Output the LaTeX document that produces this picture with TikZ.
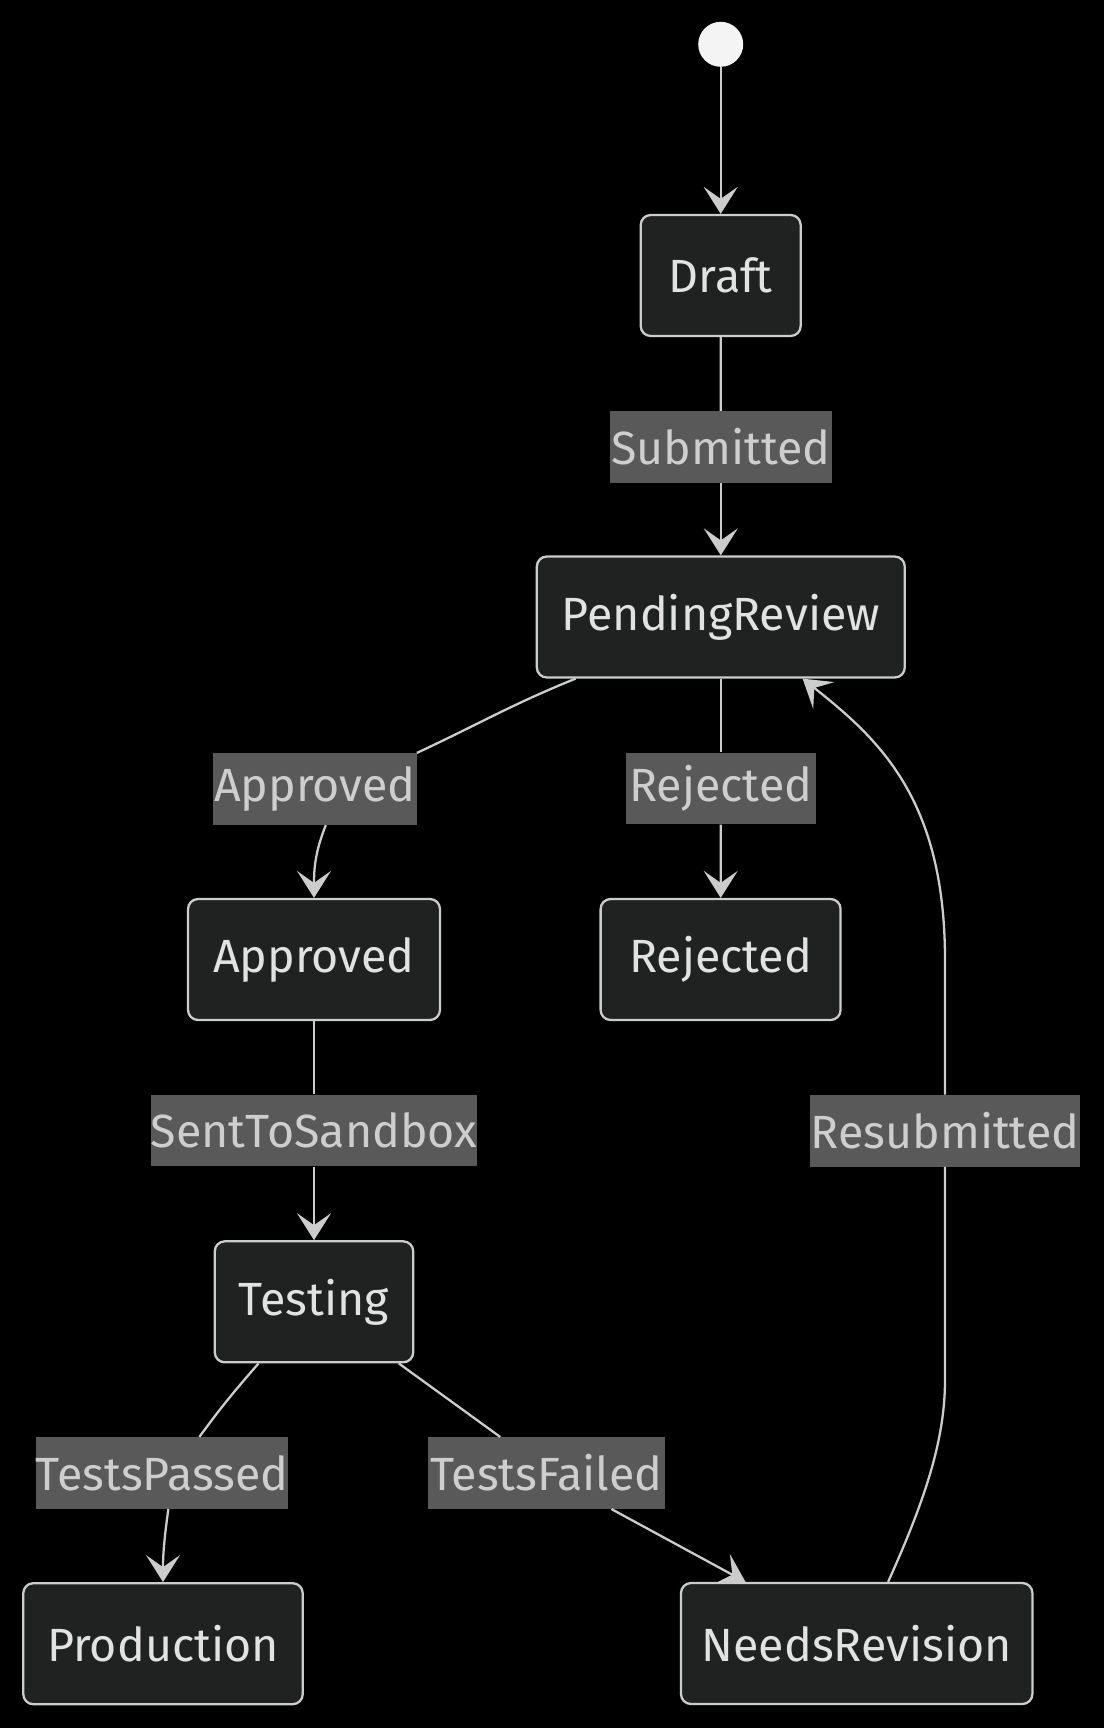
\documentclass[tikz,border=0pt]{standalone}
\usepackage{fontspec}
\setmainfont{Fira Sans}
\usetikzlibrary{arrows.meta}

\definecolor{nodefill}{RGB}{32,34,33}
\definecolor{nodeline}{RGB}{204,204,204}
\definecolor{nodetext}{RGB}{226,226,226}
\definecolor{lblfill}{RGB}{89,89,89}
\definecolor{lbltext}{RGB}{206,206,206}
\definecolor{startfill}{RGB}{244,244,244}

\begin{document}
\begin{tikzpicture}[
		x=0.02cm, y=-0.02cm,
		font=\fontsize{26.5}{31}\selectfont,
		tr/.style={draw=nodeline, line width=1.3pt},
		ar/.style={tr, -{Stealth[length=0.54cm, width=0.68cm, inset=0.24cm]}},
		stbox/.style={draw=nodeline, line width=1.3pt, fill=nodefill, text=nodetext,
			rounded corners=0.2cm, minimum height=2.42cm, inner sep=0pt},
		lbl/.style={fill=lblfill, text=lbltext, minimum height=1.43cm, inner sep=0pt}
	]
		\fill[black] (0,0) rectangle (1104,1728);
		\useasboundingbox (0,0) rectangle (1104,1728);

		% states
		\node[circle, fill=startfill, minimum size=0.9cm, inner sep=0pt] (start) at (720.7,44.3) {};
		\node[stbox, minimum width=3.2cm] (draft) at (720.7,275.5) {Draft};
		\node[stbox, minimum width=7.36cm] (pend) at (720.8,617) {PendingReview};
		\node[stbox, minimum width=5.04cm] (appr) at (314,959.5) {Approved};
		\node[stbox, minimum width=4.8cm] (rej) at (720.6,959.5) {Rejected};
		\node[stbox, minimum width=3.97cm] (test) at (314,1301.8) {Testing};
		\node[stbox, minimum width=5.59cm] (prod) at (163,1643.7) {Production};
		\node[stbox, minimum width=7.03cm] (needs) at (856.7,1643.5) {NeedsRevision};

		% transition labels
		\node[lbl, minimum width=4.43cm] (lsub) at (720.8,447) {Submitted};
		\node[lbl, minimum width=4.07cm] (lappr) at (314.8,789) {Approved};
		\node[lbl, minimum width=3.81cm] (lrej) at (720.8,788.4) {Rejected};
		\node[lbl, minimum width=6.41cm] (lsand) at (314,1130.5) {SentToSandbox};
		\node[lbl, minimum width=5.4cm] (lresub) at (945,1130.8) {Resubmitted};
		\node[lbl, minimum width=4.91cm] (lpass) at (162,1473) {TestsPassed};
		\node[lbl, minimum width=4.73cm] (lfail) at (546.4,1473) {TestsFailed};

		% transitions
		\draw[ar] (start) -- (draft);
		\draw[tr] (draft) -- (lsub);
		\draw[ar] (lsub) -- (pend);
		\draw[tr] (pend.203) to[out=202, in=25] (lappr.north east);
		\draw[ar] (lappr.-73) to[out=-112, in=90] (appr.north);
		\draw[tr] (pend) -- (lrej);
		\draw[ar] (lrej) -- (rej);
		\draw[tr] (appr) -- (lsand);
		\draw[ar] (lsand) -- (test);
		\draw[tr] (test.228) to[out=229, in=54] (lpass.44);
		\draw[ar] (lpass.-80) to[out=-98, in=90] (prod.north);
		\draw[tr] (test.-36) -- (lfail.142);
		\draw[ar] (lfail.-29) -- (needs.151);
		\draw[tr] (needs.63) .. controls (925,1500) and (945,1440) .. (945,1380) -- (lresub.south);
		\draw[ar] (lresub.north) -- (945,960) .. controls (945,800) and (880,740) .. (pend.-37);
	\end{tikzpicture}
\end{document}
